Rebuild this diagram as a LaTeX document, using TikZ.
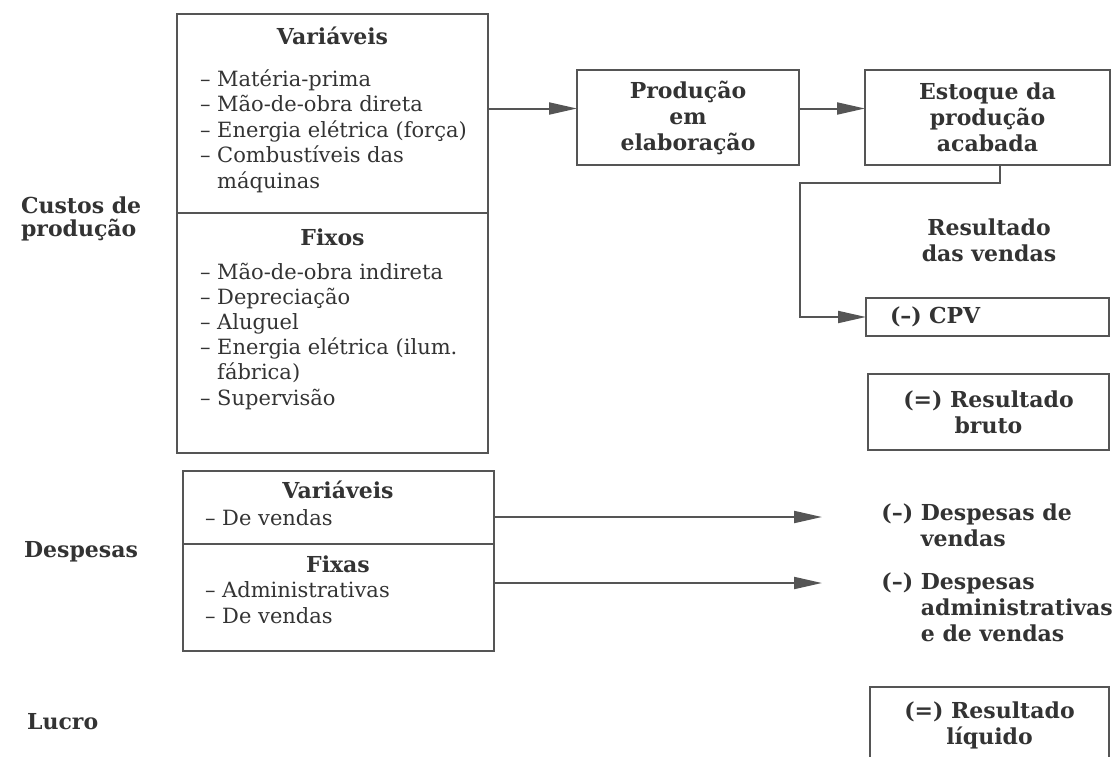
\documentclass[tikz,border=0pt]{standalone}
\usepackage{fontspec}
\setmainfont{DejaVu Serif}
\usepackage{xcolor}
\usetikzlibrary{arrows.meta,positioning,calc}

\definecolor{ink}{HTML}{333333}
\definecolor{edge}{HTML}{555555}

\tikzset{
  box/.style={draw=edge, line width=1pt, inner sep=0pt, outer sep=0pt},
  bold/.style={font=\fontsize{11}{13}\selectfont\bfseries},
  head/.style={bold, anchor=base},
  lab/.style={bold, anchor=base west},
  item/.style={anchor=base west},
  flow/.style={draw=edge, line width=1pt, -{Triangle[length=14pt,width=6pt]}}
}

\begin{document}
\begin{tikzpicture}[x=0.5pt, y=-0.5pt,
  every node/.style={text=ink, font=\fontsize{10.5}{12.75}\selectfont}]
    \path[use as bounding box, clip] (0,0) rectangle (1120,756);

    % Custos de producao
    \node[lab] (custos) at (14,213) {Custos de};
    \node[lab] (custos2) at (14,236) {produção};
    \node[box, minimum width=155.5pt, minimum height=99.5pt] (cvar) at (332.5,113.5) {};
    \node[box, minimum width=155.5pt, minimum height=120pt, anchor=north] (cfix) at (cvar.south) {};
    \node[head] (cvarh) at (332.5,44) {Variáveis};
    \foreach \txt [count=\i from 0] in {{– Matéria-prima}, {– Mão-de-obra direta},
        {– Energia elétrica (força)}, {– Combustíveis das}, {\phantom{– }máquinas}}
      \node[item] (cv\i) at (193,86+25.5*\i) {\txt};
    \node[head] (cfixh) at (332.5,245) {Fixos};
    \foreach \txt [count=\i from 0] in {{– Mão-de-obra indireta}, {– Depreciação},
        {– Aluguel}, {– Energia elétrica (ilum.}, {\phantom{– }fábrica)}, {– Supervisão}}
      \node[item] (cf\i) at (193,279+25.2*\i) {\txt};

    % Despesas
    \node[lab] (desp) at (17,557) {Despesas};
    \node[box, minimum width=155.5pt, minimum height=36.5pt] (dvar) at (338.5,507.5) {};
    \node[box, minimum width=155.5pt, minimum height=53.5pt, anchor=north] (dfix) at (dvar.south) {};
    \node[head] (dvarh) at (338,498) {Variáveis};
    \node[item] (dv0) at (198,525) {– De vendas};
    \node[head] (dfixh) at (338,572) {Fixas};
    \node[item] (df0) at (198,597) {– Administrativas};
    \node[item] (df1) at (198,623) {– De vendas};

    % Lucro
    \node[lab] (lucro) at (20,729) {Lucro};

    % Producao e estoque
    \node[box, bold, minimum width=111pt, minimum height=47.5pt, align=center] (prod) at (688,117.5) {Produção\\em\\elaboração};
    \node[box, bold, minimum width=122.5pt, minimum height=47.5pt, align=center] (est) at (987.5,117.5) {Estoque da\\produção\\acabada};

    % Resultado
    \node[bold, align=center] (rv) at (989,240) {Resultado\\das vendas};
    \node[box, bold, minimum width=121.5pt, minimum height=19pt, inner xsep=12pt, text width=97.5pt, align=left] (cpv) at (987.5,317) {(–) CPV};
    \node[box, bold, minimum width=120.5pt, minimum height=38pt, align=center] (bruto) at (988.5,412) {(=) Resultado\\bruto};
    \node[bold, align=left, anchor=north west, inner sep=0pt] (dvtxt) at (881,503) {(–) Despesas de\\\phantom{(–) }vendas};
    \node[bold, align=left, anchor=north west, inner sep=0pt] (dftxt) at (881,572) {(–) Despesas\\\phantom{(–) }administrativas\\\phantom{(–) }e de vendas};
    \node[box, bold, anchor=north, minimum width=119.5pt, inner ysep=7.5pt, align=center] (liq) at (989.5,687) {(=) Resultado\\líquido\rule[-14pt]{0pt}{14pt}};

    % Connectors
    \coordinate (pin) at ([yshift=4.5pt]prod.west);
    \coordinate (turn) at (800,183);
    \coordinate (dvend) at (822,517);
    \coordinate (dfend) at (822,583);
    \draw[flow] (cvar.east |- pin) -- (pin);
    \draw[flow] ([yshift=4.5pt]prod.east) -- ([yshift=4.5pt]est.west);
    \draw[flow] ([xshift=6.25pt]est.south) |- (turn) |- (cpv.west);
    \draw[flow] (dvar.east |- dvend) -- (dvend);
    \draw[flow] (dfix.east |- dfend) -- (dfend);
\end{tikzpicture}
\end{document}
